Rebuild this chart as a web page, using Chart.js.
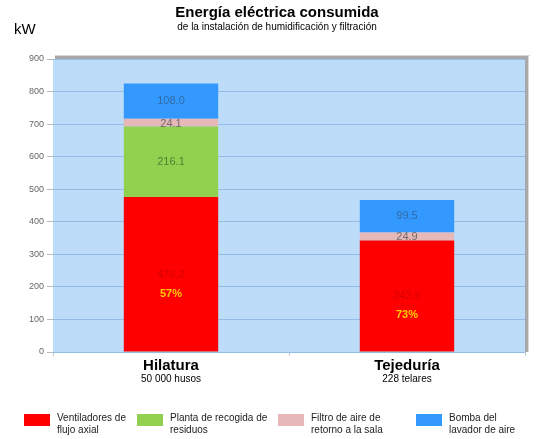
<!DOCTYPE html>
<html><head><meta charset="utf-8">
<script src="https://cdn.jsdelivr.net/npm/chart.js@4/dist/chart.umd.min.js"></script>
<style>html,body{margin:0;padding:0;background:#fff;}#wrap{width:543px;height:439px;position:relative;}</style>
</head><body><div id="wrap"><canvas id="c" width="543" height="439"></canvas></div>
<script>
const categories = ["Hilatura", "Tejeduría"];
const subLabels = ["50 000 husos", "228 telares"];
const seriesNames = [["Ventiladores de","flujo axial"],["Planta de recogida de","residuos"],["Filtro de aire de","retorno a la sala"],["Bomba del","lavador de aire"]];
const ventiladores = [476.2, 342.5];
const planta = [216.1, 0];
const filtro = [24.1, 24.9];
const bomba = [108.0, 99.5];
const percentLabels = ["57%", "73%"];
const yTicks = [0,100,200,300,400,500,600,700,800,900];
const colors = ["#ff0000", "#92d050", "#e6b9b8", "#3399ff"];
const labelColors = ["#b00000", "#3c6e2a", "#555555", "#2f5f8f"];

const seriesData = [ventiladores, planta, filtro, bomba];

const deco = {
  id: 'deco',
  beforeDraw(chart) {
    const {ctx, chartArea: a} = chart;
    ctx.save();
    ctx.fillStyle = '#a9a9a9';
    ctx.fillRect(a.left + 2, a.top - 3, a.right - a.left + 1, 3);
    ctx.fillRect(a.right, a.top - 3, 3, a.bottom - a.top + 3);
    ctx.fillStyle = '#d8d8d8';
    ctx.fillRect(a.left + 2, a.top - 4, a.right - a.left + 3, 1);
    ctx.fillRect(a.right + 3, a.top - 4, 1, a.bottom - a.top + 4);
    ctx.fillStyle = '#bcdcfa';
    ctx.fillRect(a.left, a.top, a.right - a.left, a.bottom - a.top);
    ctx.restore();
  },
  afterDraw(chart) {
    const {ctx} = chart;
    const xs = chart.scales.x, ys = chart.scales.y;
    ctx.save();
    ctx.fillStyle = '#000';
    ctx.textAlign = 'center';
    ctx.textBaseline = 'middle';
    ctx.font = 'bold 15px "Liberation Sans", Arial, sans-serif';
    ctx.fillText('Energía eléctrica consumida', 277, 13);
    ctx.font = '10px "Liberation Sans", Arial, sans-serif';
    ctx.fillText('de la instalación de humidificación y filtración', 277, 27);
    ctx.textAlign = 'left';
    ctx.font = '15px "Liberation Sans", Arial, sans-serif';
    ctx.fillText('kW', 14, 30);
    categories.forEach((c, i) => {
      const x = xs.getPixelForValue(i);
      ctx.textAlign = 'center';
      ctx.font = 'bold 15px "Liberation Sans", Arial, sans-serif';
      ctx.fillStyle = '#000';
      ctx.fillText(c, x, 366);
      ctx.font = '10px "Liberation Sans", Arial, sans-serif';
      ctx.fillText(subLabels[i], x, 379);
    });
    ctx.font = '11px "Liberation Sans", Arial, sans-serif';
    chart.data.datasets.forEach((ds, di) => {
      const meta = chart.getDatasetMeta(di);
      meta.data.forEach((bar, i) => {
        const v = ds.data[i];
        if (!v) return;
        const base = seriesData.slice(0, di).reduce((s, arr) => s + arr[i], 0);
        let yy = ys.getPixelForValue(base + v / 2);
        if (di === 2) yy += 1;
        ctx.fillStyle = labelColors[di];
        ctx.globalAlpha = di === 0 ? 0.5 : 0.8;
        ctx.fillText(v.toFixed(1), bar.x, yy);
        ctx.globalAlpha = 1;
        if (di === 0) {
          ctx.font = 'bold 11px "Liberation Sans", Arial, sans-serif';
          ctx.fillStyle = '#ffcc00';
          ctx.fillText(percentLabels[i], bar.x, yy + 19);
          ctx.font = '11px "Liberation Sans", Arial, sans-serif';
        }
      });
    });
    const lx = [24, 137, 278, 416];
    ctx.textAlign = 'left';
    ctx.font = '10px "Liberation Sans", Arial, sans-serif';
    seriesNames.forEach((n, i) => {
      ctx.fillStyle = colors[i];
      ctx.fillRect(lx[i], 414, 26, 12);
      ctx.fillStyle = '#222';
      ctx.fillText(n[0], lx[i] + 33, 418);
      ctx.fillText(n[1], lx[i] + 33, 430);
    });
    ctx.restore();
  }
};

new Chart(document.getElementById('c'), {
  type: 'bar',
  data: {
    labels: categories,
    datasets: seriesData.map((d, i) => ({
      label: seriesNames[i].join(' '),
      data: d,
      backgroundColor: colors[i],
      borderWidth: 0,
      categoryPercentage: 1,
      barPercentage: 0.4
    }))
  },
  options: {
    responsive: false,
    animation: false,
    layout: {padding: {top: 59, right: 18, left: 0, bottom: 0}},
    plugins: {legend: {display: false}, tooltip: {enabled: false}, title: {display: false}},
    scales: {
      x: {
        stacked: true,
        grid: {display: true, color: 'rgba(140,170,200,0.6)', drawOnChartArea: false, tickLength: 4, offset: true},
        border: {display: false},
        ticks: {display: false},
        afterFit(s) { s.height = 87; }
      },
      y: {
        stacked: true,
        min: 0, max: 900,
        afterBuildTicks(s) { s.ticks = yTicks.map(v => ({value: v})); },
        grid: {color: '#93bde6', lineWidth: 1, tickLength: 6, tickColor: '#bbbbbb'},
        border: {display: false},
        ticks: {color: '#666', font: {size: 9, family: '"Liberation Sans", Arial, sans-serif'}, padding: 3},
        afterFit(s) { s.width = 53; }
      }
    }
  },
  plugins: [deco]
});
</script></body></html>
